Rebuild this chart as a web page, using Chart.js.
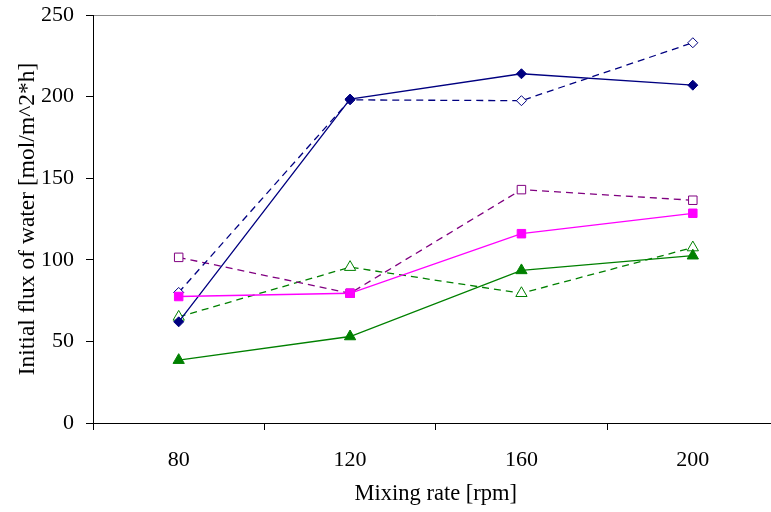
<!DOCTYPE html>
<html>
<head>
<meta charset="utf-8">
<script src="https://cdn.jsdelivr.net/npm/chart.js@4"></script>
<style>
  html, body { margin: 0; padding: 0; background: #fff; overflow: hidden; }
  #wrap { width: 771px; height: 512px; overflow: hidden; }
</style>
</head>
<body>
<div id="wrap"><canvas id="fluxChart" width="786" height="512"></canvas></div>
<script>
const mixingRates = ['80', '120', '160', '200'];
const navySolid = [62, 198.5, 214, 207];
const navyDashed = [80, 198, 197.5, 233];
const magentaSolid = [77.5, 79.5, 116, 128.5];
const purpleDashed = [101.5, 79.5, 143, 136.5];
const greenSolid = [38.5, 53, 93.5, 102.5];
const greenDashed = [65, 95.5, 79.5, 107.5];
const yTicks = [0, 50, 100, 150, 200, 250];

const serif = "'Liberation Serif', 'Times New Roman', serif";

function series(data, color, style, radius, filled, dashed) {
    return {
        data: data,
        borderColor: color,
        backgroundColor: filled ? color : '#ffffff',
        pointBackgroundColor: filled ? color : '#ffffff',
        pointBorderColor: color,
        pointStyle: style,
        pointRadius: radius,
        pointBorderWidth: 1,
        borderWidth: 1.3,
        borderDash: dashed ? [7, 5] : [],
        tension: 0,
        fill: false
    };
}

const ctx = document.getElementById('fluxChart').getContext('2d');
new Chart(ctx, {
    type: 'line',
    data: {
        labels: mixingRates,
        datasets: [
            series(magentaSolid, '#ff00ff', 'rect', 6, true, false),
            series(navySolid, '#000080', 'rectRot', 5, true, false),
            series(greenSolid, '#008000', 'triangle', 6.5, true, false),
            series(navyDashed, '#000080', 'rectRot', 5, false, true),
            series(purpleDashed, '#800080', 'rect', 6, false, true),
            series(greenDashed, '#008000', 'triangle', 6.5, false, true)
        ]
    },
    options: {
        responsive: false,
        animation: false,
        layout: { padding: { top: 15, right: 0, left: 0, bottom: 0 } },
        plugins: {
            legend: { display: false },
            tooltip: { enabled: false }
        },
        scales: {
            x: {
                type: 'category',
                offset: true,
                afterFit: function (scale) { scale.height = 89; },
                border: { display: true, color: '#000000', width: 1 },
                grid: {
                    display: true,
                    offset: true,
                    drawOnChartArea: false,
                    tickColor: '#000000',
                    tickLength: 7
                },
                ticks: {
                    color: '#000000',
                    padding: 17,
                    font: { family: serif, size: 22 }
                },
                title: {
                    display: true,
                    text: 'Mixing rate [rpm]',
                    color: '#000000',
                    padding: { top: 4, bottom: 4 },
                    font: { family: serif, size: 22.5 }
                }
            },
            y: {
                min: 0,
                max: 250,
                afterFit: function (scale) {
                    scale.width = 93;
                    scale.paddingTop = 0;
                    scale.paddingBottom = 0;
                },
                afterBuildTicks: function (scale) {
                    scale.ticks = yTicks.map(v => ({ value: v }));
                },
                border: { display: true, color: '#000000', width: 1 },
                grid: {
                    display: true,
                    color: function (c) {
                        return c.tick && c.tick.value === 250 ? '#8c8c8c' : 'rgba(0,0,0,0)';
                    },
                    tickColor: '#000000',
                    tickLength: 7
                },
                ticks: {
                    color: '#000000',
                    padding: 12,
                    font: { family: serif, size: 22 }
                },
                title: {
                    display: true,
                    text: 'Initial flux of water [mol/m^2*h]',
                    color: '#000000',
                    padding: { top: 14, bottom: 0 },
                    font: { family: serif, size: 23.5 }
                }
            }
        }
    }
});
</script>
</body>
</html>
